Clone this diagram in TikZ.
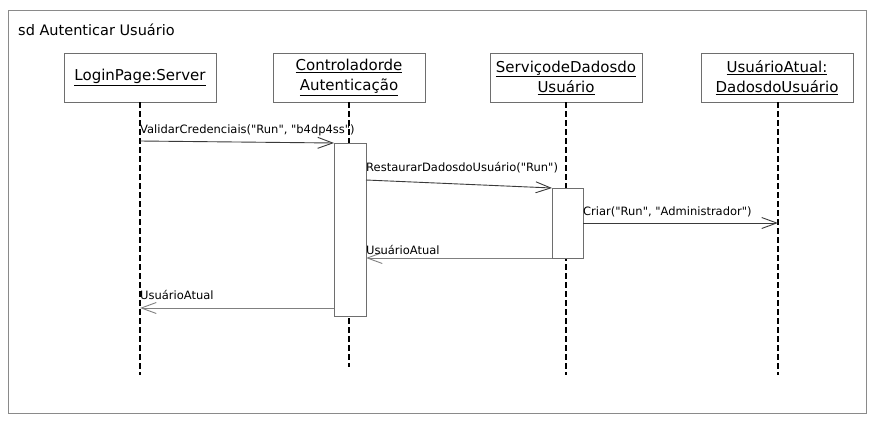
\documentclass[tikz,border=0pt]{standalone}
\usepackage{fontspec}
% no TeX ligature mapping, so " stays a straight double quote
\setmainfont{DejaVu Sans}[Ligatures=TeXOff]
\usetikzlibrary{arrows.meta}
\definecolor{framegray}{HTML}{8A8A8A}
\definecolor{boxgray}{HTML}{6E6E6E}
\definecolor{msggray}{HTML}{3A3A3A}
\begin{document}
\begin{tikzpicture}[x=1pt,y=-1pt,
  head/.style={draw=boxgray,line width=0.9pt,fill=white,minimum width=152pt,minimum height=49pt,
    align=center,inner sep=0pt,font=\fontsize{15}{20}\selectfont},
  lifeline/.style={draw=black,line width=2pt,dash pattern=on 6pt off 3pt},
  actbox/.style={draw=boxgray,line width=0.9pt,fill=white},
  msg/.style={draw=msggray,line width=0.9pt,-{Straight Barb[length=15pt,width=11pt,line width=0.9pt]}},
  reply/.style={draw=gray,line width=0.9pt,-{Straight Barb[length=15pt,width=11pt,line width=0.9pt]}},
  lbl/.style={anchor=base west,inner sep=0pt,font=\fontsize{11.5}{14}\selectfont}]
\useasboundingbox (0,0) rectangle (876,421);
% frame
\draw[framegray,line width=1pt] (8,10) rectangle (866,413);
\node[anchor=base west,inner sep=0pt,font=\fontsize{14.5}{18}\selectfont] (title) at (18,35) {sd Autenticar Usuário};

% lifeline heads
\node[head] (lp) at (140,77.5) {\underline{LoginPage:Server}};
\node[head] (ca) at (349,77.5) {\underline{Controladorde}\\\underline{Autenticação}};
\node[head] (sd) at (566,77.5) {\underline{ServiçodeDadosdo}\\\underline{Usuário}};
\node[head] (ua) at (777,77.5) {\underline{UsuárioAtual:}\\\underline{DadosdoUsuário}};

% lifeline ends
\coordinate (lpEnd) at (140,375);
\coordinate (caEnd) at (349,367);
\coordinate (sdEnd) at (566,375);
\coordinate (uaTop) at (778,102);
\coordinate (uaEnd) at (778,375);

\draw[lifeline] (lp.south) -- (lpEnd);
\draw[lifeline] (ca.south) -- (caEnd);
\draw[lifeline] (sd.south) -- (sdEnd);
\draw[lifeline] (uaTop) -- (uaEnd);

% activation bars
\node[actbox,anchor=north west,minimum width=32pt,minimum height=173pt,inner sep=0pt] (caAct) at (334,143) {};
\node[actbox,anchor=north west,minimum width=31pt,minimum height=70pt,inner sep=0pt] (sdAct) at (552,188) {};

% message end points
\coordinate (m1s) at (140,141);
\coordinate (m1t) at (334,143);
\coordinate (m2s) at (366,180);
\coordinate (m2t) at (552,188);
\coordinate (m3s) at (583,223);
\coordinate (m3t) at (778,223);
\coordinate (m4s) at (552,258);
\coordinate (m4t) at (366,258);
\coordinate (m5s) at (334,308);
\coordinate (m5t) at (140,308);

\draw[msg] (m1s) -- (m1t);
\draw[msg] (m2s) -- (m2t);
\draw[msg] (m3s) -- (m3t);
\draw[reply] (m4s) -- (m4t);
\draw[reply] (m5s) -- (m5t);

% message labels
\node[lbl] (l1) at (140,133.3) {ValidarCredenciais("Run", "b4dp4ss")};
\node[lbl] (l2) at (366,171.7) {RestaurarDadosdoUsuário("Run")};
\node[lbl] (l3) at (583,215) {Criar("Run", "Administrador")};
\node[lbl] (l4) at (366,254) {UsuárioAtual};
\node[lbl] (l5) at (140,299) {UsuárioAtual};
\end{tikzpicture}
\end{document}
